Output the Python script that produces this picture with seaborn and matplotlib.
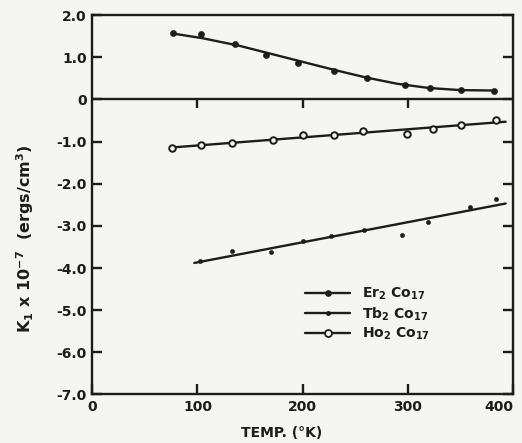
import numpy as np
import pandas as pd
import matplotlib
matplotlib.use("Agg")
import matplotlib.pyplot as plt
import seaborn as sns
from matplotlib.lines import Line2D

# measured points (temperature in K, K1 x 1e-7 ergs/cm3)
er_temp = [76.5, 103, 136, 165, 196, 230, 261, 297, 321, 351, 382]
er_k1 = [1.58, 1.55, 1.32, 1.06, 0.86, 0.68, 0.51, 0.35, 0.28, 0.22, 0.21]

tb_temp = [102, 133, 170, 200, 227, 258, 294, 319, 359, 384]
tb_k1 = [-3.84, -3.60, -3.62, -3.35, -3.23, -3.11, -3.21, -2.91, -2.56, -2.36]

ho_temp = [75.5, 103, 133, 172, 200, 230, 257, 299, 324, 351, 384]
ho_k1 = [-1.16, -1.09, -1.04, -0.96, -0.85, -0.84, -0.75, -0.81, -0.71, -0.61, -0.50]

# hand-drawn fit curves
er_fit_temp = [77, 105, 140, 170, 200, 230, 260, 290, 320, 350, 382]
er_fit_k1 = [1.56, 1.45, 1.27, 1.08, 0.89, 0.70, 0.52, 0.37, 0.27, 0.22, 0.21]
tb_fit_temp = [97, 393]
tb_fit_k1 = [-3.88, -2.47]
ho_fit_temp = [76, 393]
ho_fit_k1 = [-1.14, -0.53]

x_ticks = [0, 100, 200, 300, 400]
y_ticks = [2, 1, 0, -1, -2, -3, -4, -5, -6, -7]
y_tick_labels = ["2.0", "1.0", "0", "-1.0", "-2.0", "-3.0", "-4.0", "-5.0", "-6.0", "-7.0"]

ink = "#1c1c1c"
paper = "#f5f5f1"

sns.set_style("ticks")
plt.rcParams["font.family"] = ["DejaVu Sans"]
plt.rcParams["font.weight"] = "bold"
plt.rcParams["mathtext.fontset"] = "dejavusans"
plt.rcParams["mathtext.default"] = "bf"
plt.rcParams["axes.unicode_minus"] = False

fig = plt.figure(figsize=(5.22, 4.43), dpi=100, facecolor=paper)
ax = fig.add_axes([0.1768, 0.1095, 0.8060, 0.8565])
ax.set_facecolor(paper)

lw = 1.7
sns.lineplot(x=er_fit_temp, y=er_fit_k1, ax=ax, color=ink, lw=lw, sort=False)
sns.lineplot(x=tb_fit_temp, y=tb_fit_k1, ax=ax, color=ink, lw=lw)
sns.lineplot(x=ho_fit_temp, y=ho_fit_k1, ax=ax, color=ink, lw=lw)

sns.scatterplot(x=er_temp, y=er_k1, ax=ax, color=ink, s=20, edgecolor=ink, zorder=3)
sns.scatterplot(x=tb_temp, y=tb_k1, ax=ax, color=ink, s=10, edgecolor=ink, zorder=3)
sns.scatterplot(x=ho_temp, y=ho_k1, ax=ax, facecolor=paper, s=22, edgecolor=ink,
                linewidth=1.4, zorder=3)

# zero line splitting the two panels, with its own downward ticks
ax.axhline(0, color=ink, lw=lw)
ax.vlines(x_ticks[1:-1], -0.2, 0, color=ink, lw=lw)

ax.set_xlim(0, 400)
ax.set_ylim(-7, 2)
ax.set_xticks(x_ticks)
ax.set_xticklabels([str(t) for t in x_ticks])
ax.set_yticks(y_ticks)
ax.set_yticklabels(y_tick_labels)
ax.tick_params(axis="both", direction="in", length=7, width=lw, colors=ink,
               labelsize=10, pad=4, right=True, top=False)
ax.get_xticklabels()[-1].set_horizontalalignment("right")
for s in ax.spines.values():
    s.set_linewidth(lw)
    s.set_color(ink)

ax.set_xlabel("TEMP. (°K)", fontsize=10, fontweight="bold", color=ink)
ax.xaxis.set_label_coords(0.451, -0.082)
ax.set_ylabel(r"K$_1$ x 10$^{-7}$  (ergs/cm$^3$)", fontsize=11.5, fontweight="bold", color=ink)
ax.yaxis.set_label_coords(-0.133, 0.41)

handles = [
    Line2D([], [], color=ink, lw=lw, marker="o", ms=3.8),
    Line2D([], [], color=ink, lw=lw, marker="o", ms=2.5),
    Line2D([], [], color=ink, lw=lw, marker="o", ms=5, mfc=paper, mew=1.3),
]
labels = [r"Er$_2$ Co$_{17}$", r"Tb$_2$ Co$_{17}$", r"Ho$_2$ Co$_{17}$"]
leg = ax.legend(handles, labels, loc="upper left", bbox_to_anchor=(0.49, 0.305),
                frameon=False, fontsize=10, handlelength=3.2, handletextpad=0.9,
                labelspacing=0.22, borderpad=0, numpoints=1)
for t in leg.get_texts():
    t.set_color(ink)

fig.savefig("out.png", dpi=100, facecolor=paper)
